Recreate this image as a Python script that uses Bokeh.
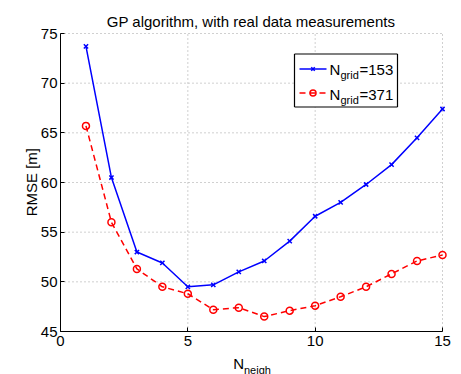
import math
from bokeh.plotting import figure
from bokeh.models import Label, FixedTicker, Range1d, LinearAxis
from bokeh.embed import file_html
from bokeh.resources import INLINE

# data
n_neigh = [1, 2, 3, 4, 5, 6, 7, 8, 9, 10, 11, 12, 13, 14, 15]
rmse_153 = [73.7, 60.5, 53.0, 51.9, 49.5, 49.7, 51.0, 52.1, 54.1, 56.6, 58.0, 59.8, 61.8, 64.5, 67.4]
rmse_371 = [65.7, 56.0, 51.3, 49.5, 48.8, 47.2, 47.4, 46.5, 47.1, 47.6, 48.5, 49.5, 50.8, 52.1, 52.7]
x_ticks = [0, 5, 10, 15]
y_ticks = [45, 50, 55, 60, 65, 70, 75]
x_lim = (0, 15)
y_lim = (45, 75)
title_text = "GP algorithm, with real data measurements"
y_label = "RMSE [m]"
x_label = ("N", "neigh")
labels_153 = ("N", "grid", "=153")
labels_371 = ("N", "grid", "=371")

FONT = "Liberation Sans"

# layout in pixels: the frame covers the whole canvas; the axes box sits inside it
W, H = 461, 374
BOX_L, BOX_T, BOX_R, BOX_B = 60, 33, 442, 331
xs = (x_lim[1] - x_lim[0]) / (BOX_R - BOX_L)
ys = (y_lim[1] - y_lim[0]) / (BOX_B - BOX_T)
X0 = x_lim[0] - BOX_L * xs
YTOP = y_lim[1] + BOX_T * ys

def px_x(px):
    return X0 + px * xs

def px_y(py):
    return YTOP - py * ys

p = figure(frame_width=W, frame_height=H, output_backend="svg", toolbar_location=None,
           x_range=Range1d(X0, x_lim[1] + (W - BOX_R) * xs),
           y_range=Range1d(y_lim[0] - (H - BOX_B) * ys, YTOP),
           x_axis_location=None, y_axis_location=None,
           min_border_left=0, min_border_right=0, min_border_top=0, min_border_bottom=0)
p.outline_line_color = None
p.background_fill_color = "white"
p.border_fill_color = "white"
p.xgrid.visible = False
p.ygrid.visible = False

xaxis = LinearAxis(fixed_location=y_lim[0], bounds=x_lim, ticker=FixedTicker(ticks=x_ticks))
yaxis = LinearAxis(fixed_location=x_lim[0], bounds=y_lim, ticker=FixedTicker(ticks=y_ticks))
for ax in (xaxis, yaxis):
    ax.major_label_text_font = FONT
    ax.major_label_text_font_size = "15px"
    ax.major_label_text_color = "black"
    ax.axis_line_color = "black"
    ax.axis_line_width = 1
    ax.major_tick_in = 4
    ax.major_tick_out = 0
    ax.minor_tick_in = 0
    ax.minor_tick_out = 0
    ax.major_tick_line_color = "black"
xaxis.major_label_standoff = 4
yaxis.major_label_standoff = 3
p.add_layout(xaxis, "below")
p.add_layout(yaxis, "left")

# dotted grid limited to the axes box
GRID = dict(line_color="#a0a0a0", line_dash="1 3", line_width=1)
p.segment(x0=x_ticks, y0=[y_lim[0]] * len(x_ticks), x1=x_ticks, y1=[y_lim[1]] * len(x_ticks), **GRID)
p.segment(x0=[x_lim[0]] * len(y_ticks), y0=y_ticks, x1=[x_lim[1]] * len(y_ticks), y1=y_ticks, **GRID)

# series
STYLE_153 = dict(color="blue", dash="solid", marker="x", size=6)
STYLE_371 = dict(color="red", dash="6 4", marker="circle", size=7)

def draw(xv, yv, st):
    p.line(xv, yv, line_color=st["color"], line_width=1.5, line_dash=st["dash"])
    p.scatter(xv, yv, marker=st["marker"], size=st["size"], line_color=st["color"],
              fill_color=None, line_width=1.5)

draw(n_neigh, rmse_153, STYLE_153)
draw(n_neigh, rmse_371, STYLE_371)

# legend box: white fill plus an explicit black border, then swatches
LG_L, LG_R, LG_T, LG_B = px_x(294), px_x(397), px_y(53.5), px_y(106.5)
p.quad(left=[LG_L], right=[LG_R], top=[LG_T], bottom=[LG_B],
       fill_color="white", fill_alpha=1.0, line_color=None)
p.segment(x0=[LG_L, LG_R, LG_R, LG_L], y0=[LG_T, LG_T, LG_B, LG_B],
          x1=[LG_R, LG_R, LG_L, LG_L], y1=[LG_T, LG_B, LG_B, LG_T],
          line_color="black", line_width=1.2)
for st, row_y in ((STYLE_153, 68.5), (STYLE_371, 92.5)):
    p.line([px_x(299), px_x(326)], [px_y(row_y)] * 2, line_color=st["color"],
           line_width=1.5, line_dash=st["dash"])
    p.scatter([px_x(312.5)], [px_y(row_y)], marker=st["marker"], size=st["size"] - 1,
              line_color=st["color"], fill_color=None, line_width=1.5)

def add_label(text, x, y_page, size, **kw):
    p.add_layout(Label(x=x, y=H - y_page, x_units="screen", y_units="screen", text=text,
                       text_font=FONT, text_font_size=size, text_color="black",
                       text_baseline="alphabetic", **kw))

add_label(title_text, 250.5, 20.7, "15px", text_align="center")
add_label(y_label, 31, 181.7, "15px", angle=math.pi / 2, text_align="center")
add_label(x_label[0], 232.7, 363, "15px")
add_label(x_label[1], 243.5, 369, "11px")
for (main, sub, rest), yb in ((labels_153, 69.3), (labels_371, 94.3)):
    add_label(main, 329, yb, "15px")
    add_label(sub, 340, yb + 5, "11px")
    add_label(rest, 359, yb, "15px")

open("out.html", "w").write(file_html(p, INLINE))
